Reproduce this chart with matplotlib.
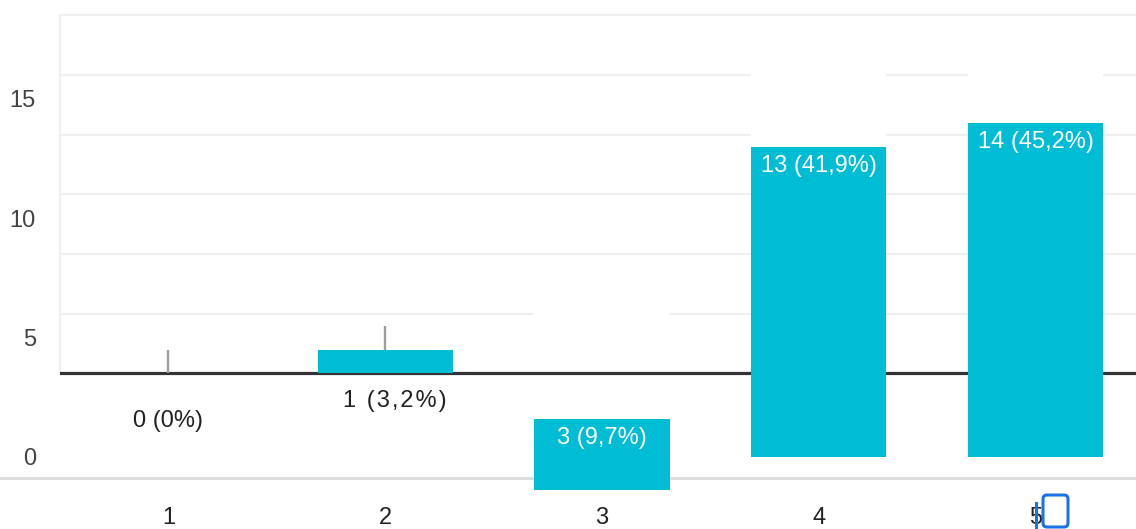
import numpy as np
import matplotlib.pyplot as plt
from matplotlib.patches import FancyBboxPatch

categories = ['1', '2', '3', '4', '5']
counts = [0, 1, 3, 13, 14]
labels = ['0 (0%)', '1\u200a \u200a(\u200a3\u200a,\u200a2\u200a%\u200a)', '3 (9,7%)', '13 (41,9%)', '14 (45,2%)']
y_ticks = [0, 5, 10, 15]

# the screenshot is glitched: grid layer sits 3.5 units above the labelled axis,
# and the bars are drawn from different baselines
shift = 3.5
drawn_bottom = [shift, shift, -1.4, 0, 0]

plt.rcParams['font.family'] = ['Liberation Sans', 'DejaVu Sans']
fs = 17

fig = plt.figure(figsize=(11.36, 5.29), dpi=100)
ax = fig.add_axes([60 / 1136, 1 - 490.4 / 529, 1084 / 1136, 475 / 529])
x = np.arange(1, len(categories) + 1)
ax.set_xlim(0.5, 5.5)
ax.set_ylim(-1.4, 15 + shift)

# grid lines (shifted layer)
for g in np.arange(2.5, 15.1, 2.5) + shift:
    ax.axhline(g, color='#efefef', lw=1.5, zorder=0, clip_on=False)
ax.plot([0.5, 0.5], [shift, 15 + shift], color='#efefef', lw=1.5, zorder=0, clip_on=False)

# white "ghost" bars where the bars ought to be
ax.bar(x, counts, bottom=shift, width=0.623, color='white', zorder=1)
ax.axhline(shift, color='#333333', lw=2.3, zorder=2)
ax.axhline(-0.86, xmin=-60 / 1084, xmax=1, color='#dddddd', lw=2.2, zorder=2, clip_on=False)

bars = ax.bar(x, counts, bottom=drawn_bottom, width=0.623, color='#00bcd4', zorder=3)

tops = np.array(drawn_bottom) + np.array(counts)
ax.vlines(x[:2], tops[:2], tops[:2] + 1, color='#9e9e9e', lw=1.7, zorder=4)

# value labels
outside_offset = [(0, -34.5), (6.8, -19.5)]
for i in range(len(counts)):
    if i < 2:
        ax.annotate(labels[i], (x[i], shift), xytext=outside_offset[i], textcoords='offset points',
                    ha='center', va='center', color='#222222', fontsize=fs, zorder=5)
    else:
        ax.annotate(labels[i], (x[i], tops[i]), xytext=(0, -13.8), textcoords='offset points',
                    ha='center', va='center', color='white', fontsize=fs, zorder=5)

ax.set_xticks(x, categories)
ax.set_yticks(y_ticks)
ax.tick_params(axis='x', length=0, pad=12.3, labelsize=fs, labelcolor='#222222')
ax.tick_params(axis='y', length=0, pad=17.3, labelsize=fs, labelcolor='#444444')
for s in ax.spines.values():
    s.set_visible(False)

# blue selection box near the last label
fig.add_artist(FancyBboxPatch((10.43, 0.02), 0.25, 0.32, boxstyle='round,pad=0,rounding_size=0.04',
                              transform=fig.dpi_scale_trans, fill=False, ec='#1a73e8', lw=2.2))
fig.add_artist(plt.Line2D([10.36, 10.36], [0, 0.26], transform=fig.dpi_scale_trans,
                          color='#1a73e8', lw=2.2))

fig.savefig('out.png', dpi=100)
